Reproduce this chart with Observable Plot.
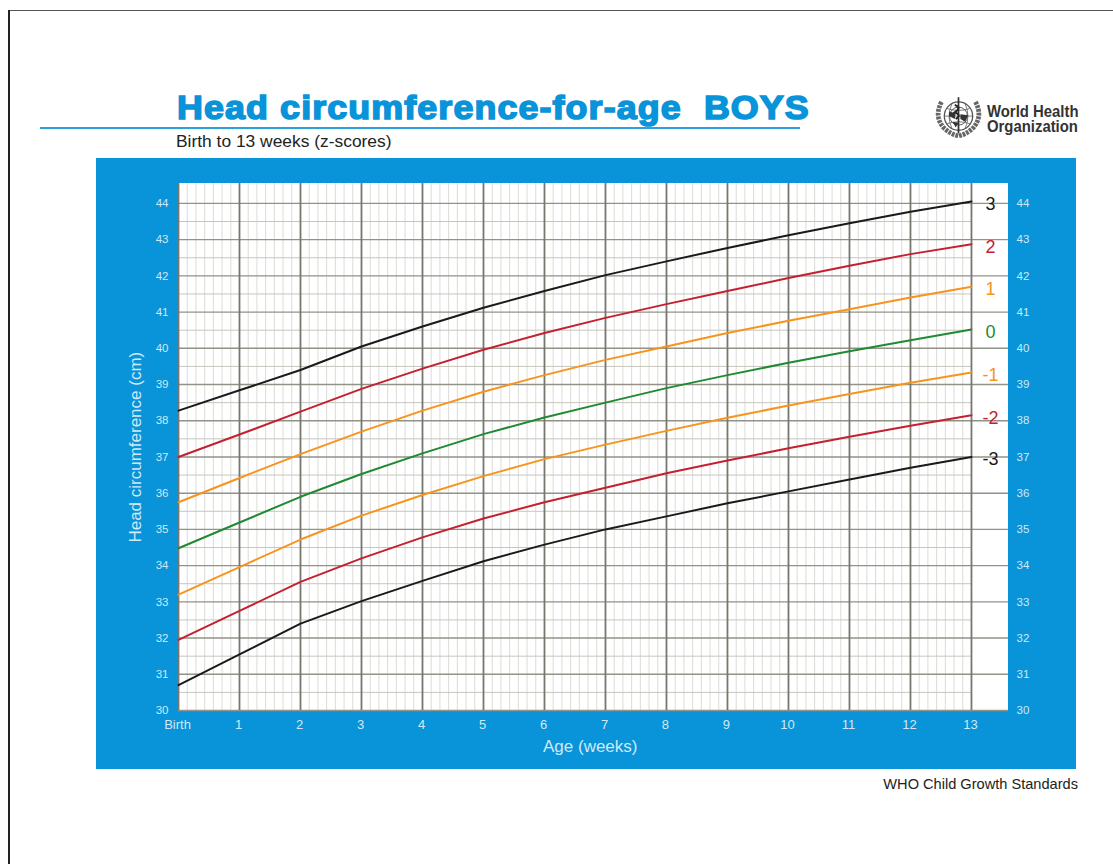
<!DOCTYPE html>
<html><head><meta charset="utf-8">
<script src="https://cdn.jsdelivr.net/npm/d3@7"></script>
<script src="https://cdn.jsdelivr.net/npm/@observablehq/plot@0.6"></script>
<style>
html,body{margin:0;padding:0;background:#fff;overflow:hidden}
body{width:1113px;height:864px;position:relative;font-family:"Liberation Sans",Arial,sans-serif}
.abs{position:absolute;white-space:pre}
#frameT{left:8px;top:10px;width:1105px;height:1px;background:#555}
#frameL{left:8px;top:10px;width:2px;height:854px;background:#222}
#title{left:177px;top:85px;font-size:34px;line-height:44px;font-weight:700;color:#0993d9;-webkit-text-stroke:1.6px #0993d9;letter-spacing:1.05px;transform:scaleX(1.054);transform-origin:0 50%}
#rule{left:40px;top:127px;width:760px;height:2px;background:#2aa3dc}
#sub{left:176px;top:131px;font-size:17.4px;line-height:20px;color:#222}
#panel{left:96px;top:158px;width:980px;height:611px;background:#0993d9}
#caption{right:35px;top:776px;font-size:14.6px;line-height:17px;color:#222}
#who{left:987px;top:104px;font-size:16px;line-height:15px;font-weight:700;color:#333;transform:scaleX(.93);transform-origin:0 50%}
#logo{left:933px;top:96px}
</style></head><body>
<div class="abs" id="frameT"></div><div class="abs" id="frameL"></div>
<div class="abs" id="title">Head circumference-for-age  BOYS</div>
<div class="abs" id="rule"></div>
<div class="abs" id="sub">Birth to 13 weeks (z-scores)</div>
<svg class="abs" id="logo" width="51" height="44" viewBox="0 0 54 46">
<g fill="none" stroke="#555">
<circle cx="27" cy="21" r="15" stroke-width="1.4"/><circle cx="27" cy="21" r="9.5" stroke-width="1"/>
<path d="M12 21H42M15 13Q27 17 39 13M15 29Q27 25 39 29M20 8Q14 21 20 34M34 8Q40 21 34 34" stroke-width=".8"/>
<path d="M9 6Q1 21 11 33Q18 40 27 42Q36 40 43 33Q53 21 45 6" stroke-width="5" stroke-dasharray="3 1" stroke="#666"/>
<path d="M27 1V39" stroke="#333" stroke-width="1.8"/>
<path d="M23 9Q31 12 23 17Q31 20 24 24" stroke="#222" stroke-width="2"/>
</g>
<path d="M17 16l7 2-1 6-6-3zM29 19l8 1-3 7-5-3zM21 27l6 1-3 5z" fill="#333"/>
</svg>
<div class="abs" id="who">World Health
Organization</div>
<div class="abs" id="panel"></div>
<div class="abs" id="caption">WHO Child Growth Standards</div>
<script>
const weeks = [0,1,2,3,4,5,6,7,8,9,10,11,12,13];
const zNeg3 = [30.7,31.55,32.4,33.02,33.58,34.12,34.58,35.0,35.36,35.72,36.05,36.38,36.7,37.0];
const zNeg2 = [31.95,32.75,33.55,34.2,34.78,35.3,35.75,36.15,36.55,36.9,37.24,37.56,37.86,38.15];
const zNeg1 = [33.2,33.96,34.72,35.38,35.95,36.47,36.94,37.34,37.72,38.08,38.42,38.74,39.05,39.33];
const z0 = [34.48,35.19,35.9,36.53,37.1,37.63,38.09,38.5,38.9,39.26,39.6,39.92,40.22,40.52];
const zPos1 = [35.75,36.42,37.08,37.7,38.28,38.8,39.26,39.68,40.05,40.42,40.76,41.08,41.4,41.7];
const zPos2 = [37.0,37.62,38.25,38.88,39.44,39.96,40.42,40.84,41.22,41.58,41.94,42.28,42.6,42.87];
const zPos3 = [38.28,38.84,39.4,40.05,40.6,41.12,41.58,42.02,42.4,42.77,43.12,43.45,43.77,44.05];
const seriesValues = [zPos3,zPos2,zPos1,z0,zNeg1,zNeg2,zNeg3];
const seriesLabels = ["3","2","1","0","-1","-2","-3"];
const seriesColors = ["#1a1a1a","#c4202f","#f7941d","#1f8a32","#f7941d","#c4202f","#1a1a1a"];
const xTickLabels = ["Birth","1","2","3","4","5","6","7","8","9","10","11","12","13"];
const cmTicks = d3.range(30,45);
const halfTicks = d3.range(30.5,44.5,1);
const dayTicks = d3.range(0,13*7+1).map(d=>d/7).filter(d=>Math.abs(d-Math.round(d))>1e-6);

const rows = seriesLabels.flatMap((z,i)=>weeks.map((w,j)=>({z,week:w,cm:seriesValues[i][j]})));
const ends = seriesLabels.map((z,i)=>({z,color:seriesColors[i],cm:seriesValues[i][13]}));
const xMax = 13.607, yTop = 44.55;
const gridMinor="#dcdbd5", gridHalf="#c6c6be", gridCm="#929288", gridWeek="#77776d", tickC="#cfe9f7";

const chart = Plot.plot({
  width:980,height:611,marginLeft:82,marginRight:68,marginTop:25,marginBottom:59,
  style:{background:"transparent",fontFamily:"'Liberation Sans',Arial,sans-serif",overflow:"visible"},
  x:{domain:[0,xMax],axis:null},
  y:{domain:[30,yTop],axis:null},
  color:{domain:seriesLabels,range:seriesColors},
  marks:[
    Plot.rect([0],{x1:0,x2:xMax,y1:30,y2:yTop,fill:"#fff"}),
    Plot.ruleX(dayTicks,{y1:30,y2:yTop,stroke:gridMinor,strokeWidth:1}),
    Plot.ruleY(halfTicks,{x1:0,x2:13,stroke:gridHalf,strokeWidth:1}),
    Plot.ruleY(cmTicks,{x1:0,x2:xMax,stroke:gridCm,strokeWidth:1.4}),
    Plot.ruleX(weeks,{y1:30,y2:yTop,stroke:gridWeek,strokeWidth:1.8}),
    Plot.line(rows,{x:"week",y:"cm",z:"z",stroke:"z",strokeWidth:2,curve:"linear"}),
    Plot.text(ends,{x:13.31,y:"cm",text:"z",fill:"color",fontSize:18,dy:2.5}),
    Plot.text(cmTicks,{x:0,y:d=>d,text:d=>String(d),dx:-10,textAnchor:"end",fill:tickC,fontSize:11.5}),
    Plot.text(cmTicks,{x:xMax,y:d=>d,text:d=>String(d),dx:8,textAnchor:"start",fill:tickC,fontSize:11.5}),
    Plot.text(weeks,{x:d=>d,y:30,text:(d,i)=>xTickLabels[i],dy:14,dx:-1,fill:tickC,fontSize:13}),
    Plot.text(["Age (weeks)"],{x:6.75,y:30,text:d=>d,dy:36,fill:tickC,fontSize:17}),
    Plot.text(["Head circumference (cm)"],{x:0,y:37.27,text:d=>d,dx:-43,rotate:-90,fill:tickC,fontSize:17})
  ]
});
document.getElementById("panel").appendChild(chart);
</script>
</body></html>
